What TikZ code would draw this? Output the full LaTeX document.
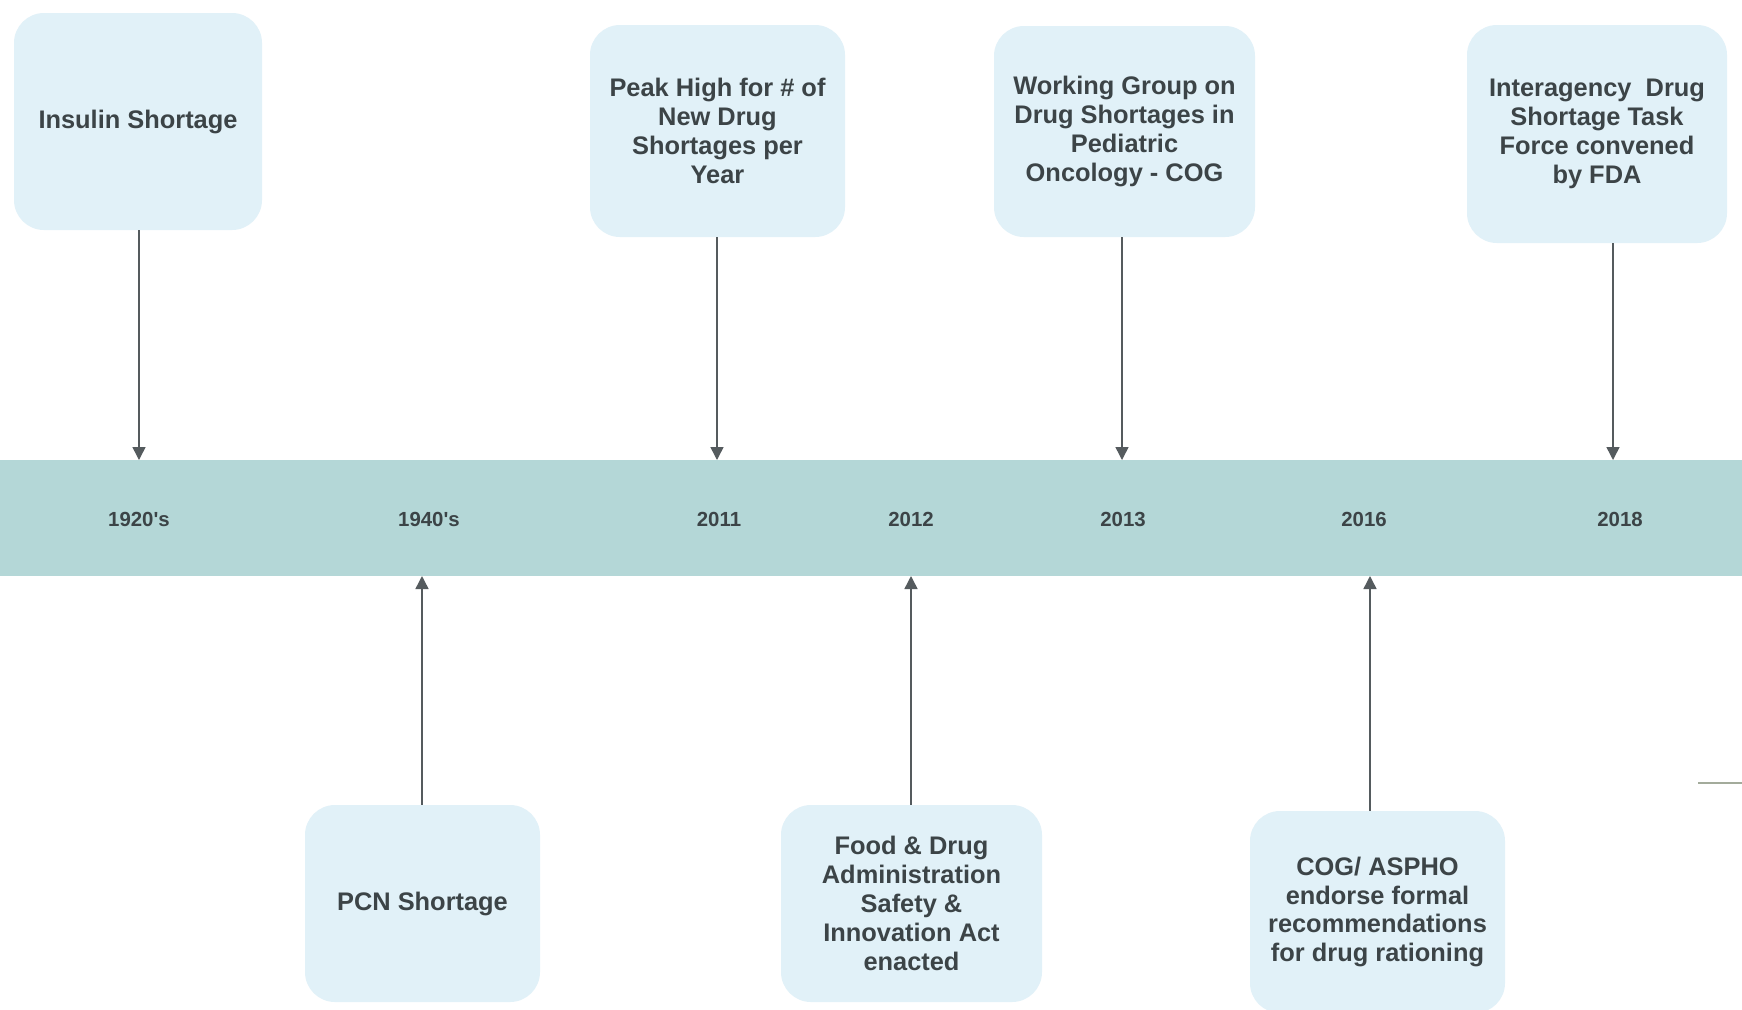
\documentclass[tikz,border=0pt]{standalone}
\usepackage{fontspec}
\setmainfont{Liberation Sans}
\usetikzlibrary{arrows.meta}
\definecolor{boxfill}{HTML}{E1F1F8}
\definecolor{bandfill}{HTML}{B4D7D7}
\definecolor{txt}{HTML}{3C4447}
\definecolor{arrcol}{HTML}{555B5E}
\definecolor{stub}{HTML}{A3AB9B}
\tikzset{
  evbox/.style={rectangle, rounded corners=15pt, fill=boxfill, draw=none,
    text=txt, align=center, inner sep=0pt,
    font=\fontsize{12.7pt}{14.4pt}\selectfont\bfseries},
  yearlbl/.style={text=txt, inner sep=0pt, font=\fontsize{10.2pt}{12pt}\selectfont\bfseries},
  conn/.style={draw=arrcol, line width=0.75pt, -{Triangle[width=6.5pt,length=6.5pt]}}
}
\begin{document}
\begin{tikzpicture}[x=0.5pt,y=-0.5pt]
\clip (0,0) rectangle (1742,1009);
\fill[white] (0,0) rectangle (1742,1009);
% band
\node[rectangle, fill=bandfill, minimum width=871pt, minimum height=58pt, inner sep=0pt] (band) at (871,518) {};
% top boxes
\node[evbox, minimum width=124pt, minimum height=108.5pt] (ins) at (138,121.5) {Insulin Shortage};
\node[evbox, minimum width=127.5pt, minimum height=106pt] (peak) at (717.5,131) {Peak High for \# of\\New Drug\\Shortages per\\Year};
\node[evbox, minimum width=130.5pt, minimum height=105.5pt] (work) at (1124.5,131.5) {Working Group on\\Drug Shortages in\\Pediatric\\Oncology - COG};
\node[evbox, minimum width=130pt, minimum height=109pt] (inter) at (1597,134) {Interagency\ \ Drug\\Shortage Task\\Force convened\\by FDA};
% bottom boxes
\node[evbox, minimum width=117.5pt, minimum height=98.5pt] (pcn) at (422.5,903.5) {PCN Shortage};
\node[evbox, minimum width=130.5pt, minimum height=98.5pt] (food) at (911.5,903.5) {Food \& Drug\\Administration\\Safety \&\\Innovation Act\\enacted};
\node[evbox, minimum width=127.5pt, minimum height=101pt] (cog) at (1377.5,912) {COG/ ASPHO\\endorse formal\\recommendations\\for drug rationing};
% year labels
\node[yearlbl] (y1) at (139,519) {1920\textquotesingle s};
\node[yearlbl] (y2) at (429,519) {1940\textquotesingle s};
\node[yearlbl] (y3) at (719,519) {2011};
\node[yearlbl] (y4) at (911,519) {2012};
\node[yearlbl] (y5) at (1123,519) {2013};
\node[yearlbl] (y6) at (1364,519) {2016};
\node[yearlbl] (y7) at (1620,519) {2018};
% arrow tips on the band
\coordinate (t1) at (139,460);
\coordinate (t3) at (717,460);
\coordinate (t5) at (1122,460);
\coordinate (t7) at (1613,460);
\coordinate (b2) at (422,576);
\coordinate (b4) at (911,576);
\coordinate (b6) at (1370,576);
\draw[conn] (ins.south -| t1) -- (t1);
\draw[conn] (peak.south -| t3) -- (t3);
\draw[conn] (work.south -| t5) -- (t5);
\draw[conn] (inter.south -| t7) -- (t7);
\draw[conn] (pcn.north -| b2) -- (b2);
\draw[conn] (food.north -| b4) -- (b4);
\draw[conn] (cog.north -| b6) -- (b6);
% stray stub at right
\draw[stub, line width=0.75pt] (1698,783) -- (1742,783);
\end{tikzpicture}
\end{document}
